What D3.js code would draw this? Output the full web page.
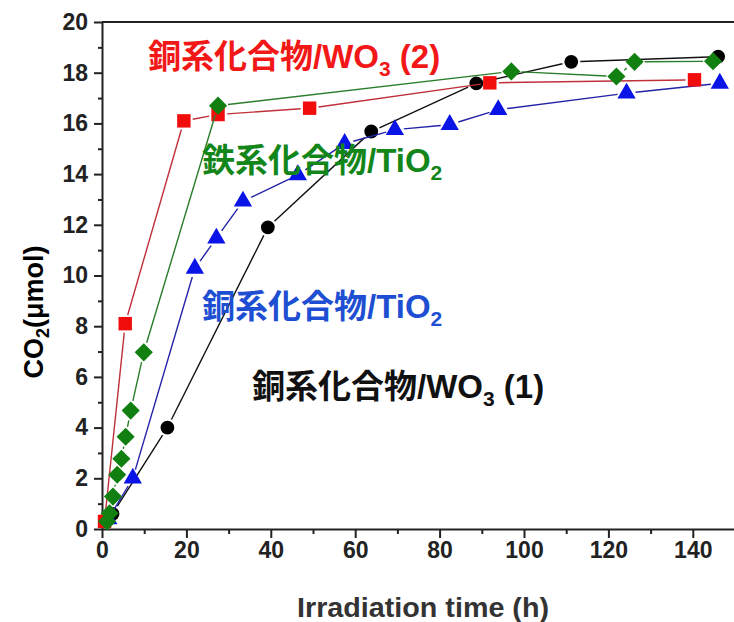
<!DOCTYPE html>
<html>
<head>
<meta charset="utf-8">
<title>CO2 vs irradiation time</title>
<script src="https://cdn.jsdelivr.net/npm/d3@7"></script>
<style>
  body { margin: 0; background: #fff; }
  svg { display: block; }
  .tick text { font-family: "Liberation Sans", Arial, sans-serif; font-weight: bold; font-size: 23px; fill: #222; }
  .domain, .tick line { stroke: #222; stroke-width: 2; }
  .label { font-family: "Noto Sans CJK JP", "Noto Sans CJK SC", sans-serif; font-weight: bold; font-size: 33px; }
</style>
</head>
<body>
<div id="chart"></div>
<script>
// Cu compound / WO3 (2) - red squares
var timeCuWO3b = [0.6, 5.5, 19.4, 27.5, 49.2, 91.9, 140.4];
var co2CuWO3b  = [0.3, 8.1, 16.1, 16.35, 16.6, 17.6, 17.72];
// Fe compound / TiO2 - green diamonds
var timeFeTiO2 = [1.2, 1.8, 2.6, 3.6, 4.6, 5.6, 6.8, 9.9, 27.5, 97, 121.9, 126.2, 144.8];
var co2FeTiO2  = [0.3, 0.62, 1.28, 2.14, 2.77, 3.64, 4.67, 6.97, 16.7, 18.05, 17.85, 18.43, 18.45];
// Cu compound / TiO2 - blue triangles
var timeCuTiO2 = [1.5, 7.3, 22, 27.1, 33.4, 46.4, 57.5, 69.4, 82.4, 93.9, 124.3, 146.4];
var co2CuTiO2  = [0.4, 2.0, 10.28, 11.47, 12.93, 13.97, 15.2, 15.75, 15.95, 16.54, 17.19, 17.58];
// Cu compound / WO3 (1) - black circles
var timeCuWO3a = [2.5, 15.5, 39.3, 63.8, 88.7, 111.2, 146];
var co2CuWO3a  = [0.6, 4.0, 11.9, 15.68, 17.58, 18.43, 18.63];

var xMajor = [0, 20, 40, 60, 80, 100, 120, 140];
var xMinor = [10, 30, 50, 70, 90, 110, 130];
var yMajor = [0, 2, 4, 6, 8, 10, 12, 14, 16, 18, 20];
var yMinor = [1, 3, 5, 7, 9, 11, 13, 15, 17, 19];

(function(d3) {
  'use strict';

  var width = 734, height = 622;
  var plotLeft = 102, plotTop = 22, plotBottom = 529;

  var x = d3.scaleLinear().domain([0, 150]).range([plotLeft, plotLeft + 150 * 4.22]);
  var y = d3.scaleLinear().domain([0, 20]).range([plotBottom, plotTop]);

  var svg = d3.select('#chart').append('svg')
    .attr('width', width).attr('height', height);

  // axes
  svg.append('g').attr('transform', 'translate(0,' + plotBottom + ')')
    .call(d3.axisBottom(x).tickValues(xMinor).tickSize(5).tickFormat(''))
    .select('.domain').remove();
  svg.append('g').attr('transform', 'translate(0,' + plotBottom + ')')
    .call(d3.axisBottom(x).tickValues(xMajor).tickSize(9).tickSizeOuter(0).tickPadding(4));
  svg.append('g').attr('transform', 'translate(' + plotLeft + ',0)')
    .call(d3.axisLeft(y).tickValues(yMinor).tickSize(4).tickFormat(''))
    .select('.domain').remove();
  svg.append('g').attr('transform', 'translate(' + plotLeft + ',0)')
    .call(d3.axisLeft(y).tickValues(yMajor).tickSize(8).tickSizeOuter(0).tickPadding(6));

  // top frame
  svg.append('line')
    .attr('x1', plotLeft).attr('x2', width).attr('y1', plotTop).attr('y2', plotTop)
    .attr('stroke', '#222').attr('stroke-width', 2);

  var series = [
    { t: timeCuWO3a, v: co2CuWO3a, line: '#111', fill: '#000', shape: d3.symbolCircle, size: 150, rot: 0, gap: 9 },
    { t: timeCuTiO2, v: co2CuTiO2, line: '#2323a8', fill: '#0a14e6', shape: d3.symbolTriangle, size: 145, rot: 0, gap: 9 },
    { t: timeCuWO3b, v: co2CuWO3b, line: '#c0303a', fill: '#f20d0d', shape: d3.symbolSquare, size: 180, rot: 0, gap: 9 },
    { t: timeFeTiO2, v: co2FeTiO2, line: '#2a7d2a', fill: '#118011', shape: d3.symbolSquare, size: 165, rot: 45, gap: 10 }
  ];

  series.forEach(function(s) {
    var pts = s.t.map(function(t, i) { return [x(t), y(s.v[i])]; });
    var g = svg.append('g');
    // line segments with a small gap at each symbol
    for (var i = 1; i < pts.length; i++) {
      var a = pts[i - 1], b = pts[i];
      var dx = b[0] - a[0], dy = b[1] - a[1];
      var len = Math.sqrt(dx * dx + dy * dy);
      if (len <= 2 * s.gap) continue;
      var ux = dx / len, uy = dy / len;
      g.append('line')
        .attr('x1', a[0] + ux * s.gap).attr('y1', a[1] + uy * s.gap)
        .attr('x2', b[0] - ux * s.gap).attr('y2', b[1] - uy * s.gap)
        .attr('stroke', s.line).attr('stroke-width', 1.4);
    }
    g.selectAll('path.sym').data(pts).enter().append('path')
      .attr('class', 'sym')
      .attr('d', d3.symbol().type(s.shape).size(s.size))
      .attr('transform', function(d) {
        return 'translate(' + d[0] + ',' + d[1] + ') rotate(' + s.rot + ')';
      })
      .attr('fill', s.fill);
  });

  // series labels
  function label(txt, sub, tail, px, py, color) {
    var t = svg.append('text').attr('class', 'label')
      .attr('x', px).attr('y', py).attr('fill', color);
    t.append('tspan').text(txt);
    t.append('tspan').attr('font-family', '"Liberation Sans", Arial, sans-serif')
      .attr('font-size', 33).text('/' + (tail ? 'WO' : 'TiO'));
    t.append('tspan').attr('font-family', '"Liberation Sans", Arial, sans-serif')
      .attr('font-size', 21).attr('dy', 8).text(sub);
    if (tail) {
      t.append('tspan').attr('font-family', '"Liberation Sans", Arial, sans-serif')
        .attr('font-size', 33).attr('dy', -8).text(tail);
    }
  }
  label('銅系化合物', '3', ' (2)', 148, 68, '#f21818');
  label('鉄系化合物', '2', null, 202, 172, '#13861a');
  label('銅系化合物', '2', null, 202, 318, '#1e4fd2');
  label('銅系化合物', '3', ' (1)', 252, 398, '#111');

  // axis titles
  var yt = svg.append('text')
    .attr('transform', 'translate(43,312) rotate(-90)')
    .attr('text-anchor', 'middle')
    .style('font-family', '"Liberation Sans", Arial, sans-serif')
    .style('font-weight', 'bold').style('font-size', '27px').attr('fill', '#000');
  yt.append('tspan').text('CO');
  yt.append('tspan').attr('font-size', 18).attr('dy', 6).text('2');
  yt.append('tspan').attr('dy', -6).text('(μmol)');

  svg.append('text')
    .attr('x', 297).attr('y', 617)
    .attr('textLength', 252).attr('lengthAdjust', 'spacingAndGlyphs')
    .style('font-family', '"Liberation Sans Narrow", "Liberation Sans", Arial, sans-serif')
    .style('font-weight', 'bold')
    .style('font-size', '28px').attr('fill', '#333')
    .text('Irradiation time (h)');
})(window.d3);
</script>
</body>
</html>
